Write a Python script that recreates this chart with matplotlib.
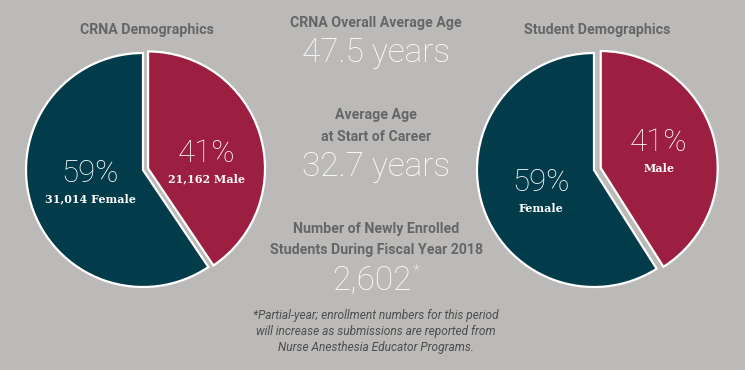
import matplotlib
matplotlib.use("Agg")
import matplotlib.pyplot as plt

# data
genders = ["Female", "Male"]
crna_counts = [31014, 21162]
crna_pct = [59, 41]
student_pct = [59, 41]
avg_age = 47.5
start_age = 32.7
new_students = 2602

BG = "#bcbab8"
TEAL = "#023b4a"
MAROON = "#9c1f42"
GREY = "#666666"
W, H = 745, 370

fig = plt.figure(figsize=(W / 100, H / 100), dpi=100)
fig.patch.set_facecolor(BG)


def px(x, y):
    return x / W, 1 - y / H


def pie_axes(cx, cy, r=117, half=130):
    ax = fig.add_axes([(cx - half) / W, (H - cy - half) / H, 2 * half / W, 2 * half / H])
    ax.axis("off")
    return ax


def draw_pie(ax, values, explode):
    # male first, clockwise from 12 o'clock
    ax.pie([values[1], values[0]], colors=[MAROON, TEAL], startangle=90,
           counterclock=False, explode=[explode, 0], radius=1,
           wedgeprops=dict(edgecolor="white", linewidth=1.6))
    lim = 130 / 117
    ax.set_xlim(-lim, lim)
    ax.set_ylim(-lim, lim)
    ax.set_aspect("equal")


big = dict(family="Roboto", fontweight="light", color="white", ha="center", va="center")
lbl = dict(family="DejaVu Serif", fontweight="bold", color="white", ha="center",
           va="center", fontsize=8)
head = dict(family="Roboto", fontweight="bold", color=GREY, ha="center", va="center", fontsize=10.2)

# left pie
ax1 = pie_axes(143, 170)
draw_pie(ax1, crna_counts, 0.045)
ax1.text(-0.453, -0.03, f"{crna_pct[0]}%", fontsize=22.5, **big)
ax1.text(-0.453, -0.25, f"{crna_counts[0]:,} {genders[0]}", **lbl)
ax1.text(0.547, 0.145, f"{crna_pct[1]}%", fontsize=22.5, **big)
ax1.text(0.547, -0.077, f"{crna_counts[1]:,} {genders[1]}", **lbl)

# right pie
ax2 = pie_axes(594, 170)
draw_pie(ax2, student_pct, 0.06)
ax2.text(-0.453, -0.111, f"{student_pct[0]}%", fontsize=22.5, **big)
ax2.text(-0.453, -0.333, genders[0], **lbl)
ax2.text(0.556, 0.231, f"{student_pct[1]}%", fontsize=22.5, **big)
ax2.text(0.556, 0.009, genders[1], **lbl)

fig.text(*px(147, 30), "CRNA Demographics", **head)
fig.text(*px(597, 30), "Student Demographics", **head)

# middle column
cx = 376
fig.text(*px(cx, 23), "CRNA Overall Average Age", **head)
fig.text(*px(cx, 53), f"{avg_age} years", fontsize=24, **big)
fig.text(*px(cx, 115), "Average Age", **head)
fig.text(*px(cx, 137), "at Start of Career", **head)
fig.text(*px(cx, 167), f"{start_age} years", fontsize=24, **big)
fig.text(*px(cx, 229), "Number of Newly Enrolled", **head)
fig.text(*px(cx, 250), "Students During Fiscal Year 2018", **head)
num = fig.text(*px(cx - 4, 280), f"{new_students:,}", fontsize=24, **big)
star = fig.text(0, 0, "*", fontsize=12, color="white", family="Roboto",
                fontweight="light", ha="left", va="top")
fig.canvas.draw()
bb = num.get_window_extent()
star.set_position(((bb.x1 + 1) / W, (bb.y1 + 1) / H))

note = ("*Partial-year; enrollment numbers for this period\n"
        "will increase as submissions are reported from\n"
        "Nurse Anesthesia Educator Programs.")
fig.text(*px(cx, 332), note, family="Roboto", style="italic", fontweight="normal",
         color="#4d4d4d", ha="center", va="center", fontsize=8.6, linespacing=1.3)

fig.savefig("out.png", dpi=100, facecolor=BG)
